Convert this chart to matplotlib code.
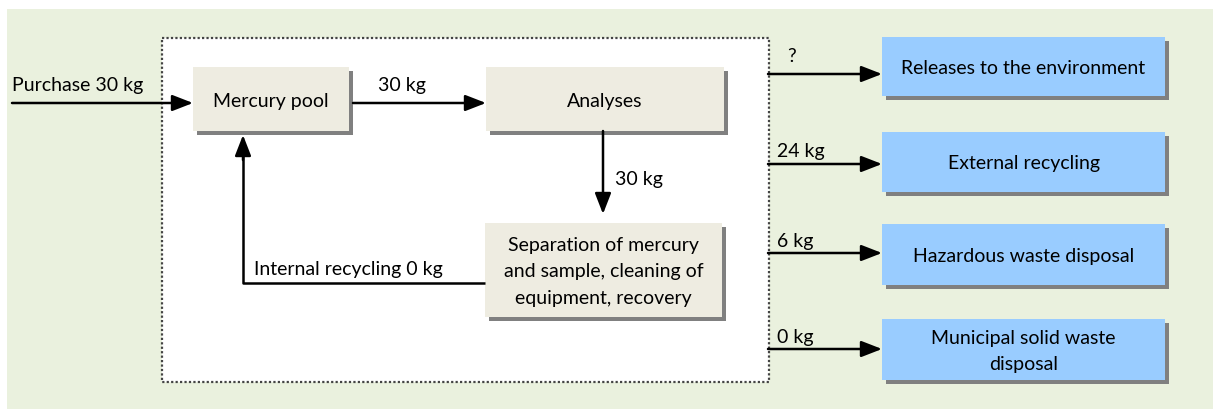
import matplotlib
matplotlib.use("Agg")
import matplotlib.pyplot as plt
from matplotlib.patches import Rectangle

plt.rcParams['font.family'] = ['Lato', 'DejaVu Sans']

# Data
process_labels = ["Mercury pool", "Analyses",
                  "Separation of mercury\nand sample, cleaning of\nequipment, recovery"]
output_labels = ["Releases to the environment", "External recycling",
                 "Hazardous waste disposal", "Municipal solid waste\ndisposal"]
output_flows = ["?", "24 kg", "6 kg", "0 kg"]
purchase_label = "Purchase 30 kg"
pool_to_analyses = "30 kg"
analyses_to_sep = "30 kg"
internal_label = "Internal recycling 0 kg"

W, H = 1213, 409
fig = plt.figure(figsize=(W / 100, H / 100), dpi=100)
ax = fig.add_axes([0, 0, 1, 1])
ax.set_xlim(0, W)
ax.set_ylim(H, 0)
ax.axis('off')

GREEN = '#EAF1DE'
BEIGE = '#EEECE1'
BLUE = '#99CCFF'
SHADOW = '#808080'
FS = 14

ax.add_patch(Rectangle((7, 9), W - 7, H - 9, facecolor=GREEN, edgecolor='none'))
ax.add_patch(Rectangle((162, 38), 607, 344, facecolor='white',
                       edgecolor='#444444', lw=1.6, linestyle=(0, (1, 1))))


def box(x0, y0, w, h, color, text):
    ax.add_patch(Rectangle((x0 + 4, y0 + 4), w, h, facecolor=SHADOW, edgecolor='none'))
    ax.add_patch(Rectangle((x0, y0), w, h, facecolor=color, edgecolor='none'))
    ax.text(x0 + w / 2, y0 + h / 2 + 2, text, ha='center', va='center',
            fontsize=FS, color='black', linespacing=1.7)


def arrow(x0, y0, x1, y1):
    ax.annotate('', xy=(x1, y1), xytext=(x0, y0),
                arrowprops=dict(arrowstyle='-|>,head_length=0.9,head_width=0.35',
                                color='black', lw=1.8, shrinkA=0, shrinkB=0,
                                mutation_scale=14))


# process boxes
box(193, 67, 156, 64, BEIGE, process_labels[0])
box(486, 67, 238, 64, BEIGE, process_labels[1])
box(485, 223, 237, 94, BEIGE, process_labels[2])

# output boxes
out_y = [37, 132, 224, 319]
out_h = [59, 60, 61, 61]
arrow_y = [74, 164, 253, 349]
label_y = [56, 152, 241, 338]
for lab, fl, y0, h, ay, ly in zip(output_labels, output_flows, out_y, out_h, arrow_y, label_y):
    box(882, y0, 283, h, BLUE, lab)
    arrow(768, ay, 882, ay)
    ax.text(777 if fl != "?" else 787, ly, fl, ha='left', va='center', fontsize=FS)

# flows
arrow(12, 103, 193, 103)
ax.text(12, 86, purchase_label, ha='left', va='center', fontsize=FS)

arrow(353, 103, 486, 103)
ax.text(378, 85, pool_to_analyses, ha='left', va='center', fontsize=FS)

arrow(603, 131, 603, 214)
ax.text(615, 180, analyses_to_sep, ha='left', va='center', fontsize=FS)

ax.plot([485, 243, 243], [283, 283, 150], color='black', lw=1.8, solid_capstyle='butt')
arrow(243, 160, 243, 135)
ax.text(254, 269, internal_label, ha='left', va='center', fontsize=FS)

fig.savefig('out.png', dpi=100)
